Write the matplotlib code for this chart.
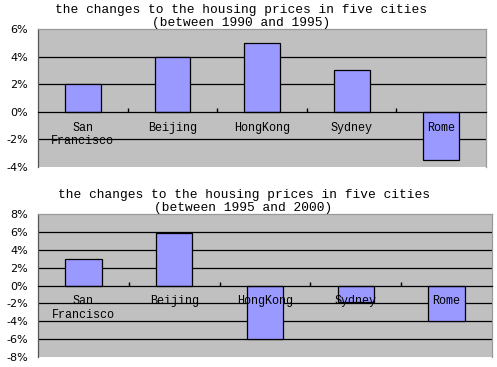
import matplotlib.pyplot as plt
import numpy as np

cities = ['San\nFrancisco', 'Beijing', 'HongKong', 'Sydney', 'Rome']
change_90_95 = [2, 4, 5, 3, -3.5]
change_95_00 = [3, 5.9, -6, -1.8, -4]

title1 = 'the changes to the housing prices in five cities\n(between 1990 and 1995)'
title2 = 'the changes to the housing prices in five cities\n(between 1995 and 2000)'
yticks1 = [-4, -2, 0, 2, 4, 6]
yticks2 = [-8, -6, -4, -2, 0, 2, 4, 6, 8]

mono = 'Liberation Mono'

fig = plt.figure(figsize=(4.97, 3.67), dpi=100)
fig.patch.set_facecolor('white')


def draw(rect, values, yticks, title, title_x, title_y):
    ax = fig.add_axes(rect)
    ax.set_facecolor('#c0c0c0')
    x = np.arange(len(values))
    # gridlines behind bars
    for t in yticks[1:-1]:
        if t != 0:
            ax.axhline(t, color='black', lw=0.9, zorder=0.5)
    ax.bar(x, values, width=0.4, color='#9999ff', edgecolor='black', lw=0.9, zorder=1)
    ax.set_xlim(-0.5, len(values) - 0.5)
    ax.set_ylim(yticks[0], yticks[-1])
    ax.set_yticks(yticks)
    ax.set_yticklabels(['%d%%' % t for t in yticks], fontsize=8, family='DejaVu Sans')
    ax.tick_params(axis='y', length=0, pad=7)
    ax.spines['bottom'].set_position(('data', 0))
    ax.spines['bottom'].set_color('black')
    ax.spines['left'].set_color('#555555')
    ax.spines['top'].set_color('#999999')
    ax.spines['right'].set_color('#999999')
    for s in ax.spines.values():
        s.set_linewidth(0.9)
    ax.set_xticks(x)
    ax.set_xticklabels(cities, fontsize=8.5, family=mono, linespacing=1.15)
    ax.set_xticks(x[:-1] + 0.5, minor=True)
    ax.tick_params(axis='x', which='major', length=0, pad=7)
    ax.tick_params(axis='x', which='minor', length=3, direction='in', width=1)
    fig.text(title_x, title_y, title, ha='center', va='top', fontsize=9.3,
             family=mono, linespacing=1.2)
    return ax


draw([0.0765, 0.545, 0.9015, 0.376], change_90_95, yticks1, title1, 0.485, 0.99)
draw([0.0765, 0.027, 0.913, 0.390], change_95_00, yticks2, title2, 0.49, 0.486)

fig.savefig('out.png', dpi=100)
